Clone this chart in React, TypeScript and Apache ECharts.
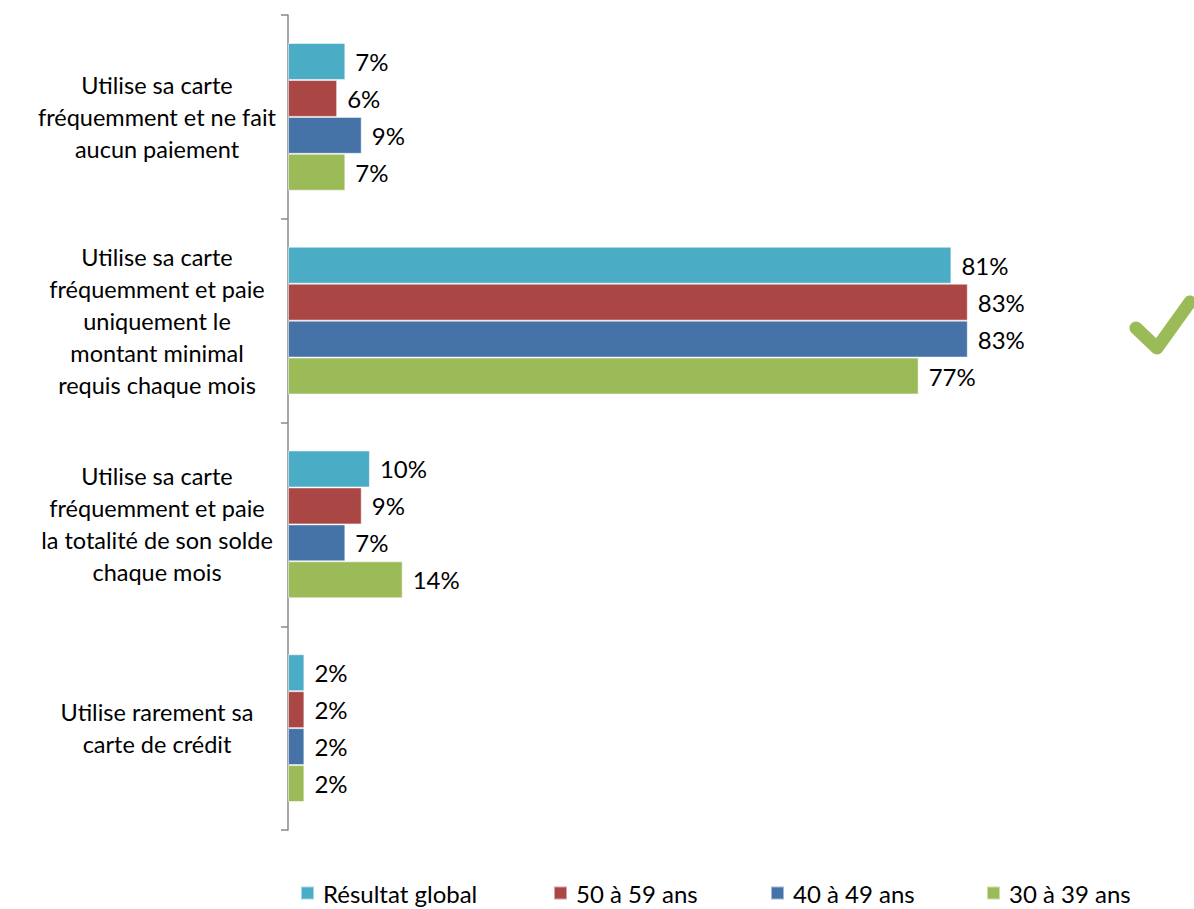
import React, { useEffect, useRef } from "react";
import * as echarts from "echarts";

const categories = [
  "Utilise sa carte\nfréquemment et ne fait\naucun paiement",
  "Utilise sa carte\nfréquemment et paie\nuniquement le\nmontant minimal\nrequis chaque mois",
  "Utilise sa carte\nfréquemment et paie\nla totalité de son solde\nchaque mois",
  "Utilise rarement sa\ncarte de crédit",
];
const seriesNames = ["Résultat global", "50 à 59 ans", "40 à 49 ans", "30 à 39 ans"];
const globalValues = [7, 81, 10, 2];
const age5059 = [6, 83, 9, 2];
const age4049 = [9, 83, 7, 2];
const age3039 = [7, 77, 14, 2];
const colors = ["#4BACC6", "#AA4643", "#4572A7", "#9BBB59"];
const legendLefts = [295, 548, 765, 981];

export default function App() {
  const ref = useRef<HTMLDivElement>(null);
  useEffect(() => {
    if (!ref.current) return;
    const chart = echarts.init(ref.current, null, { renderer: "svg" });
    const font = "Lato, 'Open Sans', sans-serif";
    const values = [globalValues, age5059, age4049, age3039];
    chart.setOption({
      animation: false,
      textStyle: { fontFamily: font },
      grid: { left: 288, top: 15, width: 819, height: 815 },
      xAxis: { type: "value", min: 0, max: 100, show: false },
      yAxis: {
        type: "category",
        inverse: true,
        data: categories,
        axisLine: { show: true, lineStyle: { color: "#888888", width: 1.5 } },
        axisTick: { show: true, length: 7, alignWithLabel: false, lineStyle: { color: "#888888", width: 1.5 } },
        axisLabel: {
          align: "center",
          margin: 131,
          fontSize: 23.5,
          lineHeight: 32,
          color: "#000000",
          fontFamily: font,
        },
      },
      legend: seriesNames.map((n, i) => ({
        data: [n],
        left: legendLefts[i],
        top: 876,
        itemWidth: 13,
        itemHeight: 13,
        icon: "rect",
        itemGap: 0,
        textStyle: { fontSize: 24, color: "#000000", fontFamily: font, padding: [0, 0, 0, 4] },
      })),
      series: seriesNames.map((n, i) => ({
        name: n,
        type: "bar",
        data: values[i],
        barGap: "0%",
        barCategoryGap: "27.5%",
        itemStyle: { color: colors[i], borderColor: "rgba(255,255,255,0.5)", borderWidth: 1 },
        label: {
          show: true,
          position: "right",
          distance: 10,
          formatter: "{c}%",
          fontSize: 24,
          color: "#000000",
          fontFamily: font,
        },
      })),
      graphic: [
        {
          type: "polyline",
          shape: { points: [[1136, 328], [1157, 348], [1190, 302]] },
          style: { stroke: "#9BBB59", lineWidth: 13, fill: null, lineJoin: "round", lineCap: "round" },
        },
      ],
    });
    return () => chart.dispose();
  }, []);
  return (
    <div
      ref={ref}
      style={{ position: "fixed", left: 0, top: 0, width: 1194, height: 909, background: "#ffffff" }}
    />
  );
}
